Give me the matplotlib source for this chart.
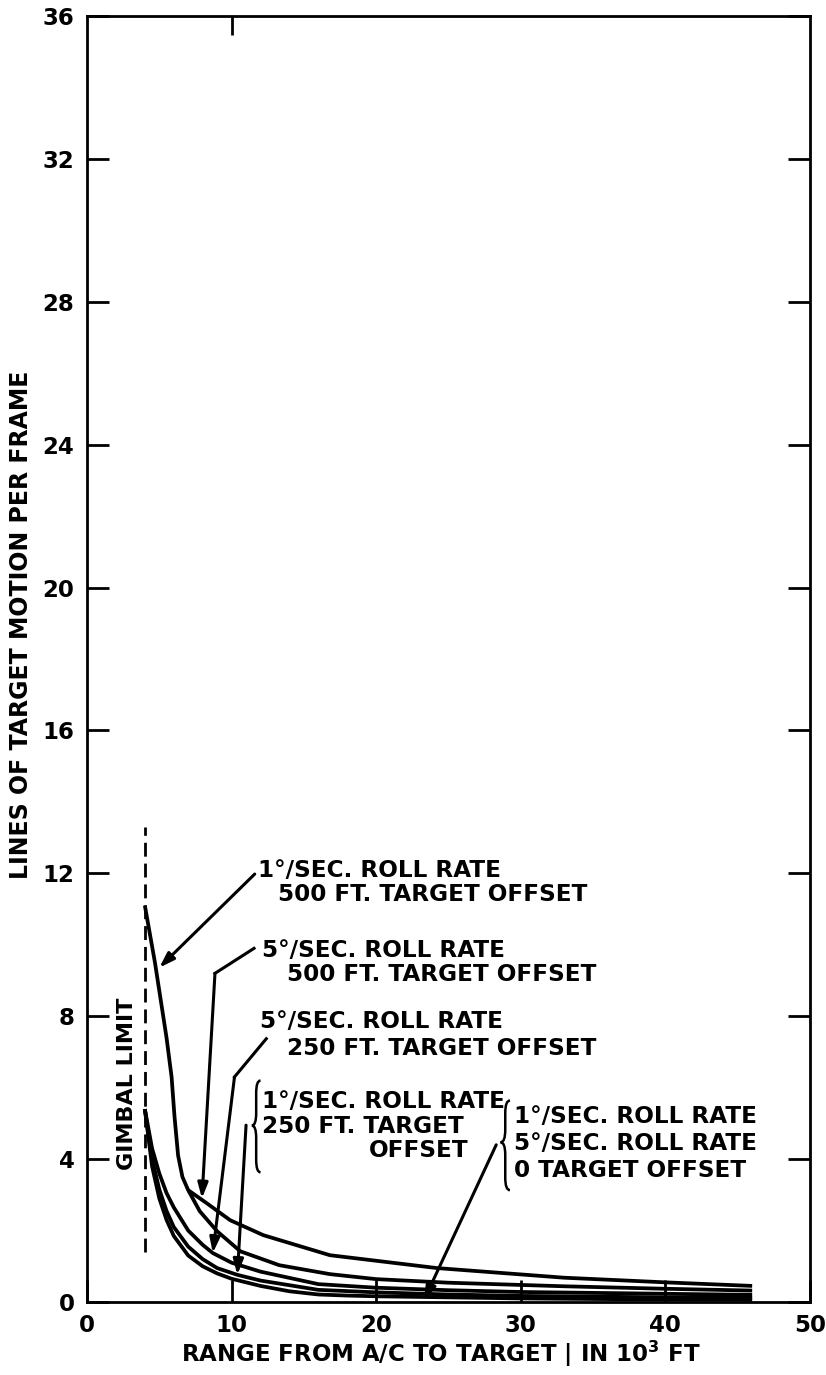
import matplotlib
matplotlib.use('Agg')
import matplotlib.pyplot as plt
from matplotlib.path import Path
from matplotlib.patches import PathPatch

plt.rcParams['font.family'] = 'DejaVu Sans'
plt.rcParams['font.weight'] = 'bold'
plt.rcParams['axes.labelweight'] = 'bold'

# gimbal limit (range in 10^3 ft) and the extent of its dashed marker
gimbal_x = 4.0
gimbal_span = [1.4, 13.3]

# 1 deg/sec roll rate, 500 ft target offset
r_1_500 = [4.0, 4.7, 5.5, 5.85, 6.05, 6.3, 6.6, 7.0, 7.8, 9.0, 10.6, 13.3, 16.8, 20.0, 25.0, 33.0, 40.0, 46.0]
v_1_500 = [11.1, 9.5, 7.4, 6.3, 5.2, 4.1, 3.5, 3.13, 2.54, 1.98, 1.42, 1.03, 0.78, 0.64, 0.54, 0.44, 0.37, 0.32]

# 5 deg/sec roll rate, 500 ft target offset
r_5_500 = [7.0, 8.3, 9.9, 12.2, 16.8, 24.2, 33.0, 40.0, 46.0]
v_5_500 = [3.13, 2.76, 2.29, 1.87, 1.31, 0.95, 0.68, 0.55, 0.45]

# 5 deg/sec roll rate, 250 ft target offset
r_5_250 = [4.0, 4.5, 5.0, 5.5, 6.0, 7.0, 8.0, 8.7, 10.0, 12.0, 16.0, 20.0, 25.0, 30.0, 40.0, 46.0]
v_5_250 = [5.4, 4.3, 3.6, 3.05, 2.65, 2.0, 1.6, 1.37, 1.1, 0.85, 0.5, 0.4, 0.33, 0.28, 0.23, 0.2]

# 1 deg/sec roll rate, 250 ft target offset
r_1_250 = [4.0, 4.5, 5.0, 5.5, 6.0, 7.0, 8.0, 9.0, 10.4, 12.0, 16.0, 20.0, 25.0, 30.0, 40.0, 46.0]
v_1_250 = [5.4, 4.0, 3.15, 2.55, 2.1, 1.55, 1.2, 0.95, 0.76, 0.6, 0.34, 0.27, 0.21, 0.17, 0.13, 0.12]

# 1 and 5 deg/sec roll rate, 0 target offset
r_0 = [4.0, 4.5, 5.0, 5.5, 6.0, 7.0, 8.0, 9.0, 10.0, 12.0, 14.0, 16.0, 18.0, 20.0, 25.0, 30.0, 40.0, 46.0]
v_0 = [5.4, 3.8, 2.9, 2.3, 1.85, 1.3, 1.0, 0.8, 0.65, 0.45, 0.3, 0.21, 0.18, 0.16, 0.13, 0.1, 0.07, 0.06]

x_ticks = [0, 10, 20, 30, 40, 50]
y_ticks = [0, 4, 8, 12, 16, 20, 24, 28, 32, 36]

W, H = 826, 1375
fig = plt.figure(figsize=(W / 100, H / 100), dpi=100)
ax = fig.add_axes([87 / W, 1 - 1302 / H, (810 - 87) / W, (1302 - 16) / H])

lw = 2.7
for r, v in [(r_1_500, v_1_500), (r_5_500, v_5_500), (r_5_250, v_5_250),
             (r_1_250, v_1_250), (r_0, v_0)]:
    ax.plot(r, v, color='black', lw=lw, solid_capstyle='butt', solid_joinstyle='round')

ax.plot([gimbal_x, gimbal_x], gimbal_span, color='black', lw=2.0, dashes=(5, 2.5))
ax.text(2.75, 6.1, 'GIMBAL LIMIT', rotation=90, ha='center', va='center', fontsize=16)

fs = 16.7
labels = [
    (11.83, 12.09, '1°/SEC. ROLL RATE'), (13.2, 11.40, '500 FT. TARGET OFFSET'),
    (12.1, 9.83, '5°/SEC. ROLL RATE'), (13.83, 9.16, '500 FT. TARGET OFFSET'),
    (11.96, 7.85, '5°/SEC. ROLL RATE'), (13.83, 7.09, '250 FT. TARGET OFFSET'),
    (12.1, 5.61, '1°/SEC. ROLL RATE'), (12.1, 4.92, '250 FT. TARGET'),
    (29.5, 5.20, '1°/SEC. ROLL RATE'), (29.5, 4.44, '5°/SEC. ROLL RATE'),
    (29.5, 3.69, '0 TARGET OFFSET'),
]
for x, y, s in labels:
    ax.text(x, y, s, ha='left', va='center', fontsize=fs)
ax.text(26.35, 4.25, 'OFFSET', ha='right', va='center', fontsize=fs)


def brace(x0, x1, yb, ym, yt):
    xm = (x0 + x1) / 2
    d = 0.35
    verts = [(x1, yt), (xm, yt), (xm, yt - d),
             (xm, ym + d),
             (xm, ym), (x0, ym),
             (xm, ym), (xm, ym - d),
             (xm, yb + d),
             (xm, yb), (x1, yb)]
    codes = [Path.MOVETO, Path.CURVE3, Path.CURVE3, Path.LINETO,
             Path.CURVE3, Path.CURVE3, Path.CURVE3, Path.CURVE3,
             Path.LINETO, Path.CURVE3, Path.CURVE3]
    ax.add_patch(PathPatch(Path(verts, codes), fill=False, lw=1.8, color='black'))


brace(11.4, 12.0, 3.63, 4.94, 6.2)
brace(28.6, 29.25, 3.13, 4.47, 5.64)

aprops = dict(arrowstyle='-|>,head_length=0.9,head_width=0.3', color='black', lw=2.2,
              shrinkA=0, shrinkB=0)
# leader lines: (start, elbow or None, tip)
leaders = [
    ((11.6, 11.98), None, (5.0, 9.36)),
    ((11.55, 9.9), (8.85, 9.2), (7.95, 2.9)),
    ((12.4, 7.37), (10.2, 6.3), (8.7, 1.37)),
    ((11.0, 4.95), None, (10.4, 0.76)),
    ((28.3, 4.4), None, (23.3, 0.05)),
]
for start, elbow, tip in leaders:
    if elbow is not None:
        ax.plot([start[0], elbow[0]], [start[1], elbow[1]], color='black', lw=2.2)
        start = elbow
    ax.annotate('', xy=tip, xytext=start, arrowprops=aprops)

ax.set_xlim(0, 50)
ax.set_ylim(0, 36)
ax.set_xticks(x_ticks)
ax.set_yticks(y_ticks)
ax.tick_params(direction='in', length=16, width=2, labelsize=16.5, pad=9, right=True)
top = ax.secondary_xaxis('top')
top.set_xticks([10])
top.tick_params(direction='in', length=14, width=2, labeltop=False)
top.spines['top'].set_visible(False)
for sp in ax.spines.values():
    sp.set_linewidth(2.0)

ax.set_xlabel('RANGE FROM A/C TO TARGET | IN 10$^\\mathbf{3}$ FT', fontsize=16.5)
ax.xaxis.set_label_coords(0.49, -0.029)
ax.set_ylabel('LINES OF TARGET MOTION PER FRAME', fontsize=17)
ax.yaxis.set_label_coords(-0.075, 18.95 / 36)

fig.savefig('out.png', dpi=100)
